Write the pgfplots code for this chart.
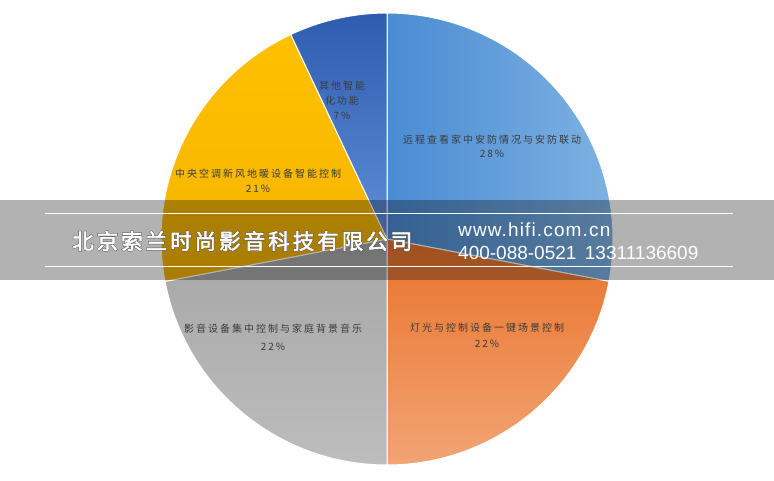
\documentclass[border=0pt]{standalone}
\usepackage{pgfplots}
\pgfplotsset{compat=1.18}
\usepackage{pgfplotstable}
\usepackage{fontspec}
\setmainfont{Liberation Sans}
\newfontfamily\urlfont[LetterSpace=6]{Liberation Sans}
\newfontfamily\cjk[LetterSpace=20]{Noto Sans CJK SC}
\newfontfamily\cjkb[FakeBold=2.5,LetterSpace=14]{Noto Sans CJK SC}
\newfontfamily\cjkbb[FakeBold=7,LetterSpace=14]{Noto Sans CJK SC}
\definecolor{blueA}{HTML}{4A8BD3}
\definecolor{blueB}{HTML}{80B3E2}
\definecolor{orA}{HTML}{E8732C}
\definecolor{orB}{HTML}{F2A474}
\definecolor{grA}{HTML}{A6A6A6}
\definecolor{grB}{HTML}{BDBDBD}
\definecolor{yeA}{HTML}{FFC000}
\definecolor{yeB}{HTML}{F4B400}
\definecolor{dbA}{HTML}{2F5CB0}
\definecolor{dbB}{HTML}{5F8FD6}
\definecolor{lab}{HTML}{3C3C3C}
\pgfplotstableread{
value
28
22
22
21
7
}\piedata
\begin{document}
\begin{tikzpicture}
\def\cum{0}
\foreach \i in {0,...,4}{%
  \pgfplotstablegetelem{\i}{value}\of\piedata
  \pgfmathsetmacro\st{90-3.6*\cum}%
  \pgfmathsetmacro\newcum{\cum+\pgfplotsretval}%
  \pgfmathsetmacro\en{90-3.6*\newcum}%
  \expandafter\xdef\csname pieS\i\endcsname{\st}%
  \expandafter\xdef\csname pieE\i\endcsname{\en}%
  \xdef\cum{\newcum}%
}
\begin{axis}[
  width=774pt, height=480pt, scale only axis,
  xmin=0, xmax=774, ymin=0, ymax=480,
  hide axis, clip=false]
\fill[white] (axis cs:0,0) rectangle (axis cs:774,480);
\newcommand\slice[2]{%
  \shadedraw[#2, draw=white, line width=1pt]
    (axis cs:387,241) -- ++(\csname pieS#1\endcsname:226pt)
    arc[start angle=\csname pieS#1\endcsname, end angle=\csname pieE#1\endcsname, radius=226pt] -- cycle;}
\slice{0}{shading=axis, left color=blueA, right color=blueB}
\slice{1}{top color=orA, bottom color=orB}
\slice{2}{top color=grA, bottom color=grB}
\slice{3}{top color=yeA, bottom color=yeB}
\slice{4}{top color=dbA, bottom color=dbB}
% labels
\node[lab, font=\fontsize{10}{14}\selectfont\cjk, align=center] at (axis cs:492,334) {远程查看家中安防情况与安防联动\\28\%};
\node[lab, font=\fontsize{10}{16}\selectfont\cjk, align=center] at (axis cs:487,145) {灯光与控制设备一键场景控制\\22\%};
\node[lab, font=\fontsize{10}{18}\selectfont\cjk, align=center] at (axis cs:273,143) {影音设备集中控制与家庭背景音乐\\22\%};
\node[lab, font=\fontsize{10}{15}\selectfont\cjk, align=center] at (axis cs:258,299) {中央空调新风地暖设备智能控制\\21\%};
\node[lab, font=\fontsize{10}{15}\selectfont\cjk, align=center] at (axis cs:342,380) {其他智能\\化功能\\7\%};
% watermark band
\fill[black, opacity=0.3] (axis cs:0,200) rectangle (axis cs:774,280);
\draw[white, line width=0.9pt] (axis cs:45,267) -- (axis cs:733,267);
\draw[white, line width=0.9pt] (axis cs:45,214) -- (axis cs:733,214);
\node[anchor=west, text=black!65, font=\fontsize{21.5}{21.5}\selectfont\cjkbb, inner sep=0pt] at (axis cs:72,239) {北京索兰时尚影音科技有限公司};
\node[anchor=west, text=white, font=\fontsize{21.5}{21.5}\selectfont\cjkb, inner sep=0pt] at (axis cs:72,239) {北京索兰时尚影音科技有限公司};
\node[anchor=base west, text=white, font=\fontsize{19}{19}\selectfont\urlfont, inner sep=0pt] at (axis cs:458,243) {www.hifi.com.cn};
\node[anchor=base west, text=white, font=\fontsize{19}{19}\selectfont, inner sep=0pt] at (axis cs:458,221) {400-088-0521\ \,13311136609};
\end{axis}
\end{tikzpicture}
\end{document}
